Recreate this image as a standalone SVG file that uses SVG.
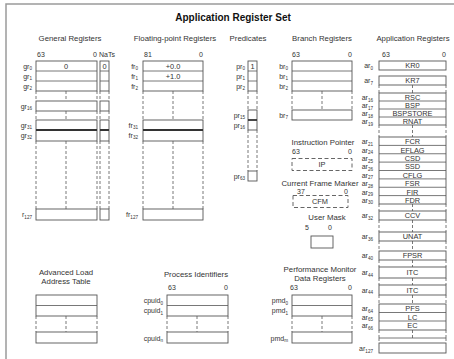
<svg xmlns="http://www.w3.org/2000/svg" width="454" height="359" viewBox="0 0 454 359">
<style>
text{font-family:"Liberation Sans",Arial,Helvetica,sans-serif;fill:#333}
.ti{font-size:10px;font-weight:bold;text-anchor:middle;fill:#111}
.h{font-size:7.8px;text-anchor:middle}
.n{font-size:7px}
.e{text-anchor:end}
.v{font-size:7.4px;text-anchor:middle}
.lb{font-size:7px;text-anchor:end}
.s{font-size:4.6px}
.box{fill:#fff;stroke:#555;stroke-width:0.9}
.ln{stroke:#555;stroke-width:0.8;fill:none}
.tk{stroke:#333;stroke-width:1.8;fill:none}
.d{stroke:#555;stroke-width:0.8;fill:none;stroke-dasharray:3 2}
.db{fill:#fff;stroke:#555;stroke-width:0.9;stroke-dasharray:4 2.5}
</style>
<path d="M6 362V4H460" fill="none" stroke="#9a9a9a" stroke-width="1.5"/>
<text class="ti" x="233" y="21">Application Register Set</text>

<g id="general-registers">
<text class="h" x="70" y="41">General Registers</text>
<text class="n" x="37" y="57">63</text><text class="n e" x="97" y="57">0</text><text class="n" x="99" y="57">NaTs</text>
<rect class="box" x="36" y="61" width="61" height="30"/><path class="ln" d="M36 71H97M36 81H97"/>
<rect class="box" x="100" y="61" width="9" height="30"/><path class="ln" d="M100 71H109M100 81H109"/>
<text class="v" x="66" y="68.5">0</text><text class="v" x="104.5" y="68.5">0</text>
<path class="d" d="M36 91V101M66 91V101M97 91V101M100 91V101M109 91V101"/>
<rect class="box" x="36" y="101" width="61" height="10"/><rect class="box" x="100" y="101" width="9" height="10"/>
<path class="d" d="M36 111V120M66 111V120M97 111V120M100 111V120M109 111V120"/>
<rect class="box" x="36" y="120" width="61" height="21"/><rect class="box" x="100" y="120" width="9" height="21"/>
<path class="tk" d="M36 130H97M100 130H109"/>
<path class="d" d="M36 141V209M66 141V209M97 141V209M100 141V209M109 141V209"/>
<rect class="box" x="36" y="209" width="61" height="11"/><rect class="box" x="100" y="209" width="9" height="11"/>
<text class="lb" x="32" y="68.5">gr<tspan class="s" dy="1.5">0</tspan></text>
<text class="lb" x="32" y="78.5">gr<tspan class="s" dy="1.5">1</tspan></text>
<text class="lb" x="32" y="88.5">gr<tspan class="s" dy="1.5">2</tspan></text>
<text class="lb" x="32" y="108.5">gr<tspan class="s" dy="1.5">16</tspan></text>
<text class="lb" x="32" y="127.5">gr<tspan class="s" dy="1.5">31</tspan></text>
<text class="lb" x="32" y="137.5">gr<tspan class="s" dy="1.5">32</tspan></text>
<text class="lb" x="32" y="217">r<tspan class="s" dy="1.5">127</tspan></text>
</g>

<g id="floating-point-registers">
<text class="h" x="175" y="41">Floating-point Registers</text>
<text class="n" x="144" y="57">81</text><text class="n e" x="203" y="57">0</text>
<rect class="box" x="143" y="61" width="60" height="30"/><path class="ln" d="M143 71H203M143 81H203"/>
<text class="v" x="173" y="68.5">+0.0</text><text class="v" x="173" y="78.5">+1.0</text>
<path class="d" d="M143 91V120M173 91V120M203 91V120"/>
<rect class="box" x="143" y="120" width="60" height="21"/><path class="tk" d="M143 130H203"/>
<path class="d" d="M143 141V209M173 141V209M203 141V209"/>
<rect class="box" x="143" y="209" width="60" height="11"/>
<text class="lb" x="138" y="68.5">fr<tspan class="s" dy="1.5">0</tspan></text>
<text class="lb" x="138" y="78.5">fr<tspan class="s" dy="1.5">1</tspan></text>
<text class="lb" x="138" y="88.5">fr<tspan class="s" dy="1.5">2</tspan></text>
<text class="lb" x="138" y="127.5">fr<tspan class="s" dy="1.5">31</tspan></text>
<text class="lb" x="138" y="137.5">fr<tspan class="s" dy="1.5">32</tspan></text>
<text class="lb" x="138" y="217">fr<tspan class="s" dy="1.5">127</tspan></text>
</g>

<g id="predicates">
<text class="h" x="248" y="41">Predicates</text>
<rect class="box" x="248" y="61" width="9" height="30"/><path class="ln" d="M248 71H257M248 81H257"/>
<text class="v" x="252.5" y="68.5">1</text>
<path class="d" d="M248 91V110M257 91V110"/>
<rect class="box" x="248" y="110" width="9" height="20"/><path class="tk" d="M248 120H257"/>
<path class="d" d="M248 130V171M257 130V171"/>
<rect class="box" x="248" y="171" width="9" height="10"/>
<text class="lb" x="245" y="68.5">pr<tspan class="s" dy="1.5">0</tspan></text>
<text class="lb" x="245" y="78.5">pr<tspan class="s" dy="1.5">1</tspan></text>
<text class="lb" x="245" y="88.5">pr<tspan class="s" dy="1.5">2</tspan></text>
<text class="lb" x="245" y="117.5">pr<tspan class="s" dy="1.5">15</tspan></text>
<text class="lb" x="245" y="127.5">pr<tspan class="s" dy="1.5">16</tspan></text>
<text class="lb" x="245" y="178.5">pr<tspan class="s" dy="1.5">63</tspan></text>
</g>

<g id="branch-registers">
<text class="h" x="322" y="41">Branch Registers</text>
<text class="n" x="292" y="57">63</text><text class="n e" x="352" y="57">0</text>
<rect class="box" x="292" y="61" width="60" height="30"/><path class="ln" d="M292 71H352M292 81H352"/>
<path class="d" d="M292 91V110M322 91V110M352 91V110"/>
<rect class="box" x="292" y="110" width="60" height="10"/>
<text class="lb" x="288" y="68.5">br<tspan class="s" dy="1.5">0</tspan></text>
<text class="lb" x="288" y="78.5">br<tspan class="s" dy="1.5">1</tspan></text>
<text class="lb" x="288" y="88.5">br<tspan class="s" dy="1.5">2</tspan></text>
<text class="lb" x="288" y="117.5">br<tspan class="s" dy="1.5">7</tspan></text>
</g>

<g id="instruction-pointer">
<text class="h" x="323" y="145">Instruction Pointer</text>
<text class="n" x="292" y="154">63</text><text class="n e" x="352" y="154">0</text>
<rect class="db" x="292" y="158.5" width="60" height="12"/>
<text class="v" x="322" y="167">IP</text>
</g>

<g id="current-frame-marker">
<text class="h" x="320" y="186">Current Frame Marker</text>
<text class="n" x="297" y="193.5">37</text><text class="n e" x="348" y="193.5">0</text>
<rect class="db" x="293" y="195.5" width="55" height="12"/>
<text class="v" x="320" y="204">CFM</text>
</g>

<g id="user-mask">
<text class="h" x="327" y="220">User Mask</text>
<text class="n" x="305" y="230">5</text><text class="n" x="328" y="230">0</text>
<rect class="box" x="311" y="236" width="22" height="12"/>
</g>

<g id="performance-monitor">
<text class="h" x="320" y="272">Performance Monitor</text>
<text class="h" x="320" y="281">Data Registers</text>
<text class="n" x="290" y="290">63</text><text class="n e" x="352" y="290">0</text>
<rect class="box" x="292" y="295" width="60" height="21"/><path class="ln" d="M292 305.5H352"/>
<path class="d" d="M292 316V332M322 316V332M352 316V332"/>
<rect class="box" x="292" y="332" width="60" height="11"/>
<text class="lb" x="288" y="303">pmd<tspan class="s" dy="1.5">0</tspan></text>
<text class="lb" x="288" y="313">pmd<tspan class="s" dy="1.5">1</tspan></text>
<text class="lb" x="288" y="340.5">pmd<tspan class="s" dy="1.5">m</tspan></text>
</g>

<g id="process-identifiers">
<text class="h" x="196" y="277">Process Identifiers</text>
<text class="n" x="168" y="290">63</text><text class="n e" x="228" y="290">0</text>
<rect class="box" x="167" y="295" width="61" height="21"/><path class="ln" d="M167 305.5H228"/>
<path class="d" d="M167 316V332M197 316V332M228 316V332"/>
<rect class="box" x="167" y="332" width="61" height="11"/>
<text class="lb" x="163" y="303">cpuid<tspan class="s" dy="1.5">0</tspan></text>
<text class="lb" x="163" y="313">cpuid<tspan class="s" dy="1.5">1</tspan></text>
<text class="lb" x="163" y="340.5">cpuid<tspan class="s" dy="1.5">n</tspan></text>
</g>

<g id="alat">
<text class="h" x="66" y="275">Advanced Load</text>
<text class="h" x="66" y="284">Address Table</text>
<rect class="box" x="36" y="295" width="61" height="21"/><path class="ln" d="M36 305.5H97"/>
<path class="d" d="M36 316V332M66 316V332M97 316V332"/>
<rect class="box" x="36" y="332" width="61" height="11"/>
</g>

<g id="application-registers">
<text class="h" x="413" y="41">Application Registers</text>
<text class="n" x="382" y="57">63</text><text class="n e" x="446" y="57">0</text>
<rect class="box" x="379" y="61" width="67" height="9"/>
<rect class="box" x="379" y="76" width="67" height="9"/>
<path class="d" d="M379 85V93M412.5 85V93M446 85V93"/>
<rect class="box" x="379" y="93" width="67" height="32"/>
<path class="ln" d="M379 101H446M379 109H446M379 117H446"/>
<path class="d" d="M379 125V137M412.5 125V137M446 125V137"/>
<rect class="box" x="379" y="137" width="67" height="67"/>
<path class="ln" d="M379 145.4H446M379 153.75H446M379 162.1H446M379 170.5H446M379 178.9H446M379 187.25H446M379 195.6H446"/>
<path class="d" d="M379 204V211M412.5 204V211M446 204V211"/>
<rect class="box" x="379" y="211" width="67" height="9"/>
<path class="d" d="M379 220V232M412.5 220V232M446 220V232"/>
<rect class="box" x="379" y="232" width="67" height="9"/>
<path class="d" d="M379 241V251M412.5 241V251M446 241V251"/>
<rect class="box" x="379" y="251" width="67" height="9"/>
<path class="d" d="M379 260V267M412.5 260V267M446 260V267"/>
<rect class="box" x="379" y="267" width="67" height="11"/>
<path class="d" d="M379 278V285M412.5 278V285M446 278V285"/>
<rect class="box" x="379" y="285" width="67" height="10"/>
<path class="d" d="M379 295V304M412.5 295V304M446 295V304"/>
<rect class="box" x="379" y="304" width="67" height="26"/>
<path class="ln" d="M379 312.5H446M379 321H446"/>
<path class="d" d="M379 330V338M412.5 330V338M446 330V338"/>
<path class="ln" d="M379 338H446"/>
<path class="d" d="M379 338V343M446 338V343"/>
<rect class="box" x="379" y="343" width="67" height="10"/>
<text class="v" x="412.5" y="68">KR0</text>
<text class="v" x="412.5" y="83">KR7</text>
<text class="v" x="412.5" y="100">RSC</text>
<text class="v" x="412.5" y="108">BSP</text>
<text class="v" x="412.5" y="116">BSPSTORE</text>
<text class="v" x="412.5" y="124">RNAT</text>
<text class="v" x="412.5" y="144.2">FCR</text>
<text class="v" x="412.5" y="152.6">EFLAG</text>
<text class="v" x="412.5" y="161">CSD</text>
<text class="v" x="412.5" y="169.3">SSD</text>
<text class="v" x="412.5" y="177.7">CFLG</text>
<text class="v" x="412.5" y="186.1">FSR</text>
<text class="v" x="412.5" y="194.5">FIR</text>
<text class="v" x="412.5" y="202.8">FDR</text>
<text class="v" x="412.5" y="218.2">CCV</text>
<text class="v" x="412.5" y="239.2">UNAT</text>
<text class="v" x="412.5" y="258.2">FPSR</text>
<text class="v" x="412.5" y="275.2">ITC</text>
<text class="v" x="412.5" y="292.7">ITC</text>
<text class="v" x="412.5" y="311">PFS</text>
<text class="v" x="412.5" y="319.5">LC</text>
<text class="v" x="412.5" y="328">EC</text>
<text class="lb" x="373" y="68">ar<tspan class="s" dy="1.5">0</tspan></text>
<text class="lb" x="373" y="83">ar<tspan class="s" dy="1.5">7</tspan></text>
<text class="lb" x="373" y="100">ar<tspan class="s" dy="1.5">16</tspan></text>
<text class="lb" x="373" y="108">ar<tspan class="s" dy="1.5">17</tspan></text>
<text class="lb" x="373" y="116">ar<tspan class="s" dy="1.5">18</tspan></text>
<text class="lb" x="373" y="124">ar<tspan class="s" dy="1.5">19</tspan></text>
<text class="lb" x="373" y="144.2">ar<tspan class="s" dy="1.5">21</tspan></text>
<text class="lb" x="373" y="152.6">ar<tspan class="s" dy="1.5">24</tspan></text>
<text class="lb" x="373" y="161">ar<tspan class="s" dy="1.5">25</tspan></text>
<text class="lb" x="373" y="169.3">ar<tspan class="s" dy="1.5">26</tspan></text>
<text class="lb" x="373" y="177.7">ar<tspan class="s" dy="1.5">27</tspan></text>
<text class="lb" x="373" y="186.1">ar<tspan class="s" dy="1.5">28</tspan></text>
<text class="lb" x="373" y="194.5">ar<tspan class="s" dy="1.5">29</tspan></text>
<text class="lb" x="373" y="202.8">ar<tspan class="s" dy="1.5">30</tspan></text>
<text class="lb" x="373" y="218.2">ar<tspan class="s" dy="1.5">32</tspan></text>
<text class="lb" x="373" y="239.2">ar<tspan class="s" dy="1.5">36</tspan></text>
<text class="lb" x="373" y="258.2">ar<tspan class="s" dy="1.5">40</tspan></text>
<text class="lb" x="373" y="275.2">ar<tspan class="s" dy="1.5">44</tspan></text>
<text class="lb" x="373" y="292.7">ar<tspan class="s" dy="1.5">44</tspan></text>
<text class="lb" x="373" y="311">ar<tspan class="s" dy="1.5">64</tspan></text>
<text class="lb" x="373" y="319.5">ar<tspan class="s" dy="1.5">65</tspan></text>
<text class="lb" x="373" y="328">ar<tspan class="s" dy="1.5">66</tspan></text>
<text class="lb" x="373" y="351">ar<tspan class="s" dy="1.5">127</tspan></text>
</g>
<g id="connectors"/>
</svg>
